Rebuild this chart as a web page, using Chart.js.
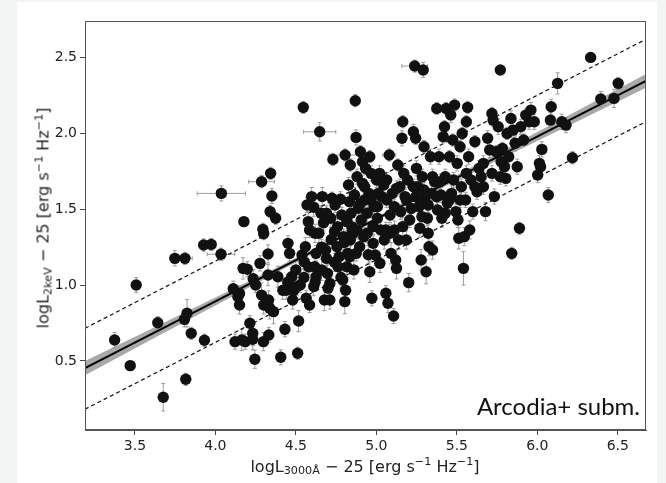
<!DOCTYPE html>
<html>
<head>
<meta charset="utf-8">
<script src="https://cdn.jsdelivr.net/npm/chart.js@4.4.0/dist/chart.umd.min.js"></script>
<style>
  html, body { margin: 0; padding: 0; }
  body { width: 666px; height: 483px; background: #f1f5f4; position: relative; overflow: hidden; }
  #frame { position: absolute; left: 17px; top: 2px; width: 640px; height: 481px; background: #fff; }
  #chart { position: absolute; left: 17px; top: 0; }
  .axt { position: absolute; font-family: "DejaVu Sans", sans-serif; font-size: 16px; color: #222; white-space: nowrap; }
  .axt sub, .axt sup { font-size: 0.7em; line-height: 0; }
  .axt sub { vertical-align: -0.25em; }
  .axt sup { vertical-align: 0.55em; }
  #xt { left: 365px; top: 466px; transform: translate(-50%, -50%); }
  #yt { left: 43px; top: 218px; transform: translate(-50%, -50%) rotate(-90deg); }
  #note { position: absolute; right: 26px; top: 391px; font-family: Lato, "Open Sans", sans-serif; font-size: 24px; color: #111; }
</style>
</head>
<body>
<div id="frame"></div>
<canvas id="chart" width="640" height="483"></canvas>
<div class="axt" id="xt">logL<sub>3000Å</sub> − 25 [erg s<sup>−1</sup> Hz<sup>−1</sup>]</div>
<div class="axt" id="yt">logL<sub>2keV</sub> − 25 [erg s<sup>−1</sup> Hz<sup>−1</sup>]</div>
<div id="note">Arcodia+ subm.</div>
<script>
// log L3000 - 25 of each source
const xVals = [
  3.374,3.471,3.508,3.642,3.676,3.748,3.811,3.808,3.824,3.816,
  3.85,3.932,3.927,3.974,4.035,4.037,4.111,4.122,4.14,4.15,
  4.164,4.177,4.185,4.214,4.232,4.232,4.245,4.172,4.198,4.235,
  4.25,4.277,4.287,4.295,4.3,4.287,4.3,4.298,4.343,4.351,
  4.34,4.374,4.327,4.33,4.337,4.361,4.332,4.327,4.388,4.406,
  4.432,4.419,4.44,4.451,4.461,4.474,4.488,4.506,4.511,4.517,
  4.546,4.551,4.559,4.527,4.564,4.585,4.569,4.577,4.611,4.598,
  4.619,4.625,4.617,4.611,4.625,4.648,4.656,4.664,4.672,4.677,
  4.685,4.69,4.696,4.711,4.711,4.724,4.73,4.74,4.756,4.762,
  4.769,4.777,4.785,4.791,4.806,4.804,4.809,4.817,4.822,4.827,
  4.833,4.838,4.843,4.848,4.856,4.838,4.864,4.869,4.874,4.88,
  4.888,4.896,4.901,4.906,4.914,4.914,4.922,4.927,4.933,4.943,
  4.954,4.959,4.959,4.967,4.972,4.98,4.985,4.993,5.001,5.006,
  5.012,5.022,5.027,5.046,5.049,5.059,5.064,5.072,5.08,5.085,
  5.091,5.099,5.107,5.112,5.12,5.125,5.133,5.138,5.146,5.151,
  5.159,5.164,5.17,5.178,5.186,5.194,5.201,5.207,5.23,5.238,
  5.244,5.249,5.257,5.265,5.27,5.278,5.286,5.291,5.296,5.301,
  5.309,5.317,5.322,5.327,5.336,5.343,5.349,5.362,5.375,5.38,
  5.389,5.402,5.407,5.415,5.423,5.428,5.433,5.441,5.454,5.462,
  5.467,5.475,5.486,5.494,5.502,5.507,5.512,5.52,5.528,5.533,
  5.541,5.546,5.554,5.559,5.567,5.573,5.58,5.588,5.599,5.612,
  5.625,5.638,5.651,5.665,5.678,5.691,5.704,5.718,5.725,5.733,
  5.744,5.757,5.77,5.775,5.783,5.796,5.804,5.812,5.822,5.836,
  5.841,5.849,5.862,5.875,5.889,5.897,5.915,5.928,5.949,5.96,
  5.981,6.002,6.013,6.02,6.028,6.068,6.081,6.086,6.126,6.152,
  6.178,6.218,6.331,6.394,6.476,6.502,
  4.15,4.48,
  4.538,4.585,4.643,4.69,4.717,4.743,4.759,4.796,4.817,4.835,
  4.875,4.88,4.901,4.927,4.943,4.967,4.98,5.006,5.02,5.033,
  5.059,5.064,5.085,5.112,5.125,5.164,5.186,5.217,5.23,5.244,
  5.283,5.296,5.322,5.349,5.375,5.396,5.428,5.454,5.48,5.52,
  5.559,5.612,5.665,5.718,5.77,
  4.62,4.66,4.7,4.74,4.78,4.8,4.86,4.66,4.55,4.58,
  4.5,4.45,4.72,4.85,4.95
];
// log L2keV - 25 of each source
const yVals = [
  0.638,0.469,1.0,0.752,0.261,1.176,1.176,0.774,0.814,0.379,
  0.682,0.636,1.264,1.268,1.203,1.604,0.976,0.627,0.923,0.869,
  0.638,1.418,0.627,0.748,0.682,0.643,0.511,1.11,1.104,1.042,
  1.0,1.143,1.681,1.367,1.339,0.934,0.869,0.627,1.736,1.587,
  1.484,1.44,1.205,0.902,0.847,0.825,0.671,1.066,1.055,0.524,
  0.709,0.966,0.966,1.275,1.209,1.055,0.966,0.99,0.551,0.763,
  2.171,1.154,1.253,1.0,0.913,0.869,1.528,1.418,1.513,1.583,
  1.341,1.209,1.121,0.99,1.055,2.01,1.473,1.583,1.411,0.902,
  1.231,1.176,1.077,1.011,0.902,1.572,1.828,1.352,1.253,1.121,
  1.187,1.565,1.462,1.033,1.857,0.891,0.966,1.121,1.209,1.659,
  1.55,1.791,1.473,1.385,1.341,1.297,1.594,2.215,1.973,1.714,
  1.506,1.253,1.879,1.429,1.813,1.67,1.319,1.561,1.769,1.473,
  1.604,1.088,1.846,1.736,0.913,1.385,1.517,1.198,1.692,1.44,
  1.604,1.143,1.363,1.659,1.297,0.946,1.561,0.88,1.857,1.462,
  1.209,1.604,0.796,1.363,1.165,1.11,1.791,1.297,1.648,1.484,
  1.967,2.076,1.736,1.583,1.297,1.692,1.016,1.429,2.01,2.443,
  1.967,1.769,1.648,1.517,1.374,1.165,1.714,2.417,1.912,1.561,
  1.088,1.44,1.341,1.253,1.846,1.604,1.231,1.681,2.164,1.495,
  1.846,1.594,1.44,1.978,2.043,1.714,2.164,1.539,1.846,2.12,
  1.604,1.956,2.186,1.484,1.802,1.429,1.308,1.912,1.648,1.999,
  1.11,1.319,1.561,2.076,2.171,1.846,1.363,1.692,1.484,1.945,
  1.615,1.769,1.714,1.802,1.484,1.967,1.89,2.131,2.087,1.583,
  1.879,2.043,2.417,1.813,1.901,1.78,1.703,1.999,1.846,2.098,
  1.209,2.021,1.934,1.78,1.374,2.043,1.956,2.12,2.076,2.153,
  2.076,1.725,1.802,1.78,1.894,1.593,2.087,2.175,2.329,2.076,
  2.054,1.839,2.5,2.226,2.23,2.329,
  0.945,0.902,
  1.198,1.363,1.341,1.473,1.44,1.527,1.385,1.319,1.418,1.187,
  1.209,1.363,1.538,1.648,1.341,1.56,1.275,1.516,1.736,1.582,
  1.363,1.692,1.341,1.516,1.637,1.385,1.56,1.505,1.648,1.582,
  1.451,1.626,1.527,1.714,1.582,1.681,1.473,1.56,1.692,1.56,
  1.736,1.648,1.648,1.736,1.714,
  1.02,1.1,0.98,1.15,1.05,1.28,1.1,1.25,1.05,1.12,
  1.1,1.02,1.3,1.35,1.2
];
// vertical error of each source
const yErrs = [
  0.05,0.03,0.05,0.04,0.09,0.05,0.04,0.05,0.09,0.04,
  0.04,0.04,0.04,0.04,0.04,0.05,0.05,0.05,0.06,0.06,
  0.07,0.03,0.05,0.05,0.08,0.07,0.06,0.07,0.05,0.06,
  0.05,0.05,0.04,0.04,0.04,0.08,0.06,0.06,0.04,0.05,
  0.04,0.04,0.06,0.06,0.07,0.08,0.05,0.07,0.07,0.05,
  0.05,0.06,0.06,0.05,0.05,0.06,0.05,0.06,0.04,0.07,
  0.04,0.05,0.06,0.05,0.05,0.05,0.05,0.07,0.06,0.06,
  0.06,0.05,0.07,0.06,0.06,0.06,0.05,0.06,0.05,0.07,
  0.06,0.05,0.06,0.08,0.06,0.04,0.04,0.05,0.07,0.06,
  0.06,0.05,0.05,0.06,0.04,0.08,0.06,0.07,0.06,0.05,
  0.05,0.04,0.05,0.06,0.06,0.07,0.05,0.04,0.05,0.05,
  0.05,0.06,0.04,0.05,0.04,0.05,0.06,0.05,0.04,0.06,
  0.05,0.07,0.04,0.05,0.05,0.06,0.05,0.07,0.05,0.06,
  0.05,0.06,0.06,0.05,0.06,0.05,0.05,0.06,0.04,0.05,
  0.07,0.05,0.05,0.06,0.06,0.07,0.04,0.06,0.05,0.05,
  0.05,0.04,0.05,0.05,0.06,0.05,0.06,0.05,0.05,0.04,
  0.04,0.05,0.05,0.05,0.06,0.07,0.05,0.05,0.04,0.05,
  0.08,0.05,0.06,0.06,0.05,0.05,0.06,0.05,0.04,0.05,
  0.05,0.05,0.06,0.04,0.04,0.05,0.04,0.05,0.04,0.05,
  0.05,0.04,0.04,0.05,0.05,0.05,0.07,0.04,0.05,0.04,
  0.11,0.06,0.05,0.04,0.04,0.05,0.06,0.05,0.05,0.04,
  0.05,0.05,0.05,0.05,0.06,0.05,0.05,0.04,0.04,0.05,
  0.04,0.05,0.03,0.05,0.04,0.05,0.05,0.04,0.05,0.05,
  0.04,0.05,0.05,0.05,0.04,0.05,0.04,0.04,0.05,0.05,
  0.05,0.05,0.05,0.04,0.05,0.05,0.05,0.05,0.07,0.05,
  0.05,0.04,0.03,0.05,0.06,0.04,
  0.05,0.06,
  0.06,0.05,0.06,0.05,0.06,0.05,0.06,0.05,0.06,0.07,
  0.05,0.06,0.05,0.05,0.06,0.05,0.06,0.05,0.05,0.06,
  0.05,0.05,0.06,0.05,0.05,0.06,0.05,0.05,0.05,0.05,
  0.06,0.05,0.05,0.05,0.05,0.05,0.06,0.05,0.05,0.05,
  0.05,0.05,0.05,0.05,0.05,
  0.06,0.07,0.05,0.06,0.07,0.05,0.06,0.05,0.06,0.05,
  0.06,0.05,0.06,0.05,0.06
];
// the few sources with a horizontal error bar
const hX = [3.811, 4.035, 4.037, 4.287, 4.648, 4.806, 5.08, 5.238];
const hY = [1.176, 1.203, 1.604, 1.681, 2.01, 1.857, 1.857, 2.443];
const hErr = [0.045, 0.085, 0.15, 0.08, 0.1, 0.1, 0.04, 0.08];

// best fit and the +-scatter lines
const lineX = [3.19, 6.675];
const fitY = [0.452, 2.345];
const upperY = [0.715, 2.62];
const lowerY = [0.182, 2.077];

// grey confidence band round the fit
const bandX = [3.19, 3.6, 4.0, 4.4, 4.8, 5.2, 5.6, 6.0, 6.4, 6.675];
const bandHigh = [0.499, 0.711, 0.918, 1.126, 1.338, 1.557, 1.781, 2.009, 2.235, 2.39];
const bandLow = [0.405, 0.639, 0.866, 1.092, 1.316, 1.531, 1.741, 1.949, 2.157, 2.30];

const xTicks = [3.5, 4.0, 4.5, 5.0, 5.5, 6.0, 6.5];
const yTicks = [0.5, 1.0, 1.5, 2.0, 2.5];

const pts = xVals.map((x, i) => ({ x: x, y: yVals[i] }));
const pairs = (xs, ys) => xs.map((x, i) => ({ x: x, y: ys[i] }));

const errorBars = {
  id: 'errorBars',
  beforeDatasetsDraw(chart) {
    const c = chart.ctx, xs = chart.scales.x, ys = chart.scales.y;
    c.save();
    c.strokeStyle = '#9c9c9c';
    c.lineWidth = 1;
    c.beginPath();
    for (let i = 0; i < xVals.length; i++) {
      const px = xs.getPixelForValue(xVals[i]);
      const top = ys.getPixelForValue(yVals[i] + yErrs[i]);
      const bot = ys.getPixelForValue(yVals[i] - yErrs[i]);
      c.moveTo(px, top); c.lineTo(px, bot);
      c.moveTo(px - 2, top); c.lineTo(px + 2, top);
      c.moveTo(px - 2, bot); c.lineTo(px + 2, bot);
    }
    for (let i = 0; i < hX.length; i++) {
      const py = ys.getPixelForValue(hY[i]);
      const l = xs.getPixelForValue(hX[i] - hErr[i]);
      const r = xs.getPixelForValue(hX[i] + hErr[i]);
      c.moveTo(l, py); c.lineTo(r, py);
      c.moveTo(l, py - 2); c.lineTo(l, py + 2);
      c.moveTo(r, py - 2); c.lineTo(r, py + 2);
    }
    c.stroke();
    c.restore();
  },
  afterDatasetsDraw(chart) {
    const a = chart.chartArea, c = chart.ctx;
    c.save();
    c.strokeStyle = '#555';
    c.lineWidth = 1;
    c.strokeRect(a.left + 0.5, a.top + 0.5, a.right - a.left - 1, a.bottom - a.top - 1);
    c.restore();
  }
};

const tickFont = { family: 'DejaVu Sans', size: 14 };

new Chart(document.getElementById('chart'), {
  type: 'scatter',
  data: {
    datasets: [
      { data: pts, pointRadius: 5.7, pointBackgroundColor: '#111', pointBorderWidth: 0, order: 0 },
      { type: 'line', data: pairs(lineX, fitY), borderColor: '#000', borderWidth: 2, pointRadius: 0, order: 1 },
      { type: 'line', data: pairs(lineX, upperY), borderColor: '#111', borderWidth: 1.2, borderDash: [4, 3], pointRadius: 0, order: 2 },
      { type: 'line', data: pairs(lineX, lowerY), borderColor: '#111', borderWidth: 1.2, borderDash: [4, 3], pointRadius: 0, order: 3 },
      { type: 'line', data: pairs(bandX, bandHigh), borderWidth: 0, pointRadius: 0, fill: '+1', backgroundColor: 'rgba(140,140,140,0.75)', order: 4 },
      { type: 'line', data: pairs(bandX, bandLow), borderWidth: 0, pointRadius: 0, fill: false, order: 5 }
    ]
  },
  options: {
    responsive: false,
    animation: false,
    layout: { padding: { top: 21, right: 11, left: 0, bottom: 0 } },
    plugins: { legend: { display: false }, tooltip: { enabled: false } },
    scales: {
      x: {
        type: 'linear', min: 3.19, max: 6.675,
        afterFit: (s) => { s.height = 53; },
        afterBuildTicks: (s) => { s.ticks = xTicks.map(v => ({ value: v })); },
        ticks: { font: tickFont, color: '#222', padding: 3, callback: (v) => v.toFixed(1) },
        grid: { drawOnChartArea: false, tickLength: 5, color: '#444' },
        border: { color: '#555' }
      },
      y: {
        type: 'linear', min: 0.045, max: 2.74,
        afterFit: (s) => { s.width = 68; },
        afterBuildTicks: (s) => { s.ticks = yTicks.map(v => ({ value: v })); },
        ticks: { font: tickFont, color: '#222', padding: 3, callback: (v) => v.toFixed(1) },
        grid: { drawOnChartArea: false, tickLength: 5, color: '#444' },
        border: { color: '#555' }
      }
    }
  },
  plugins: [errorBars]
});
</script>
</body>
</html>
